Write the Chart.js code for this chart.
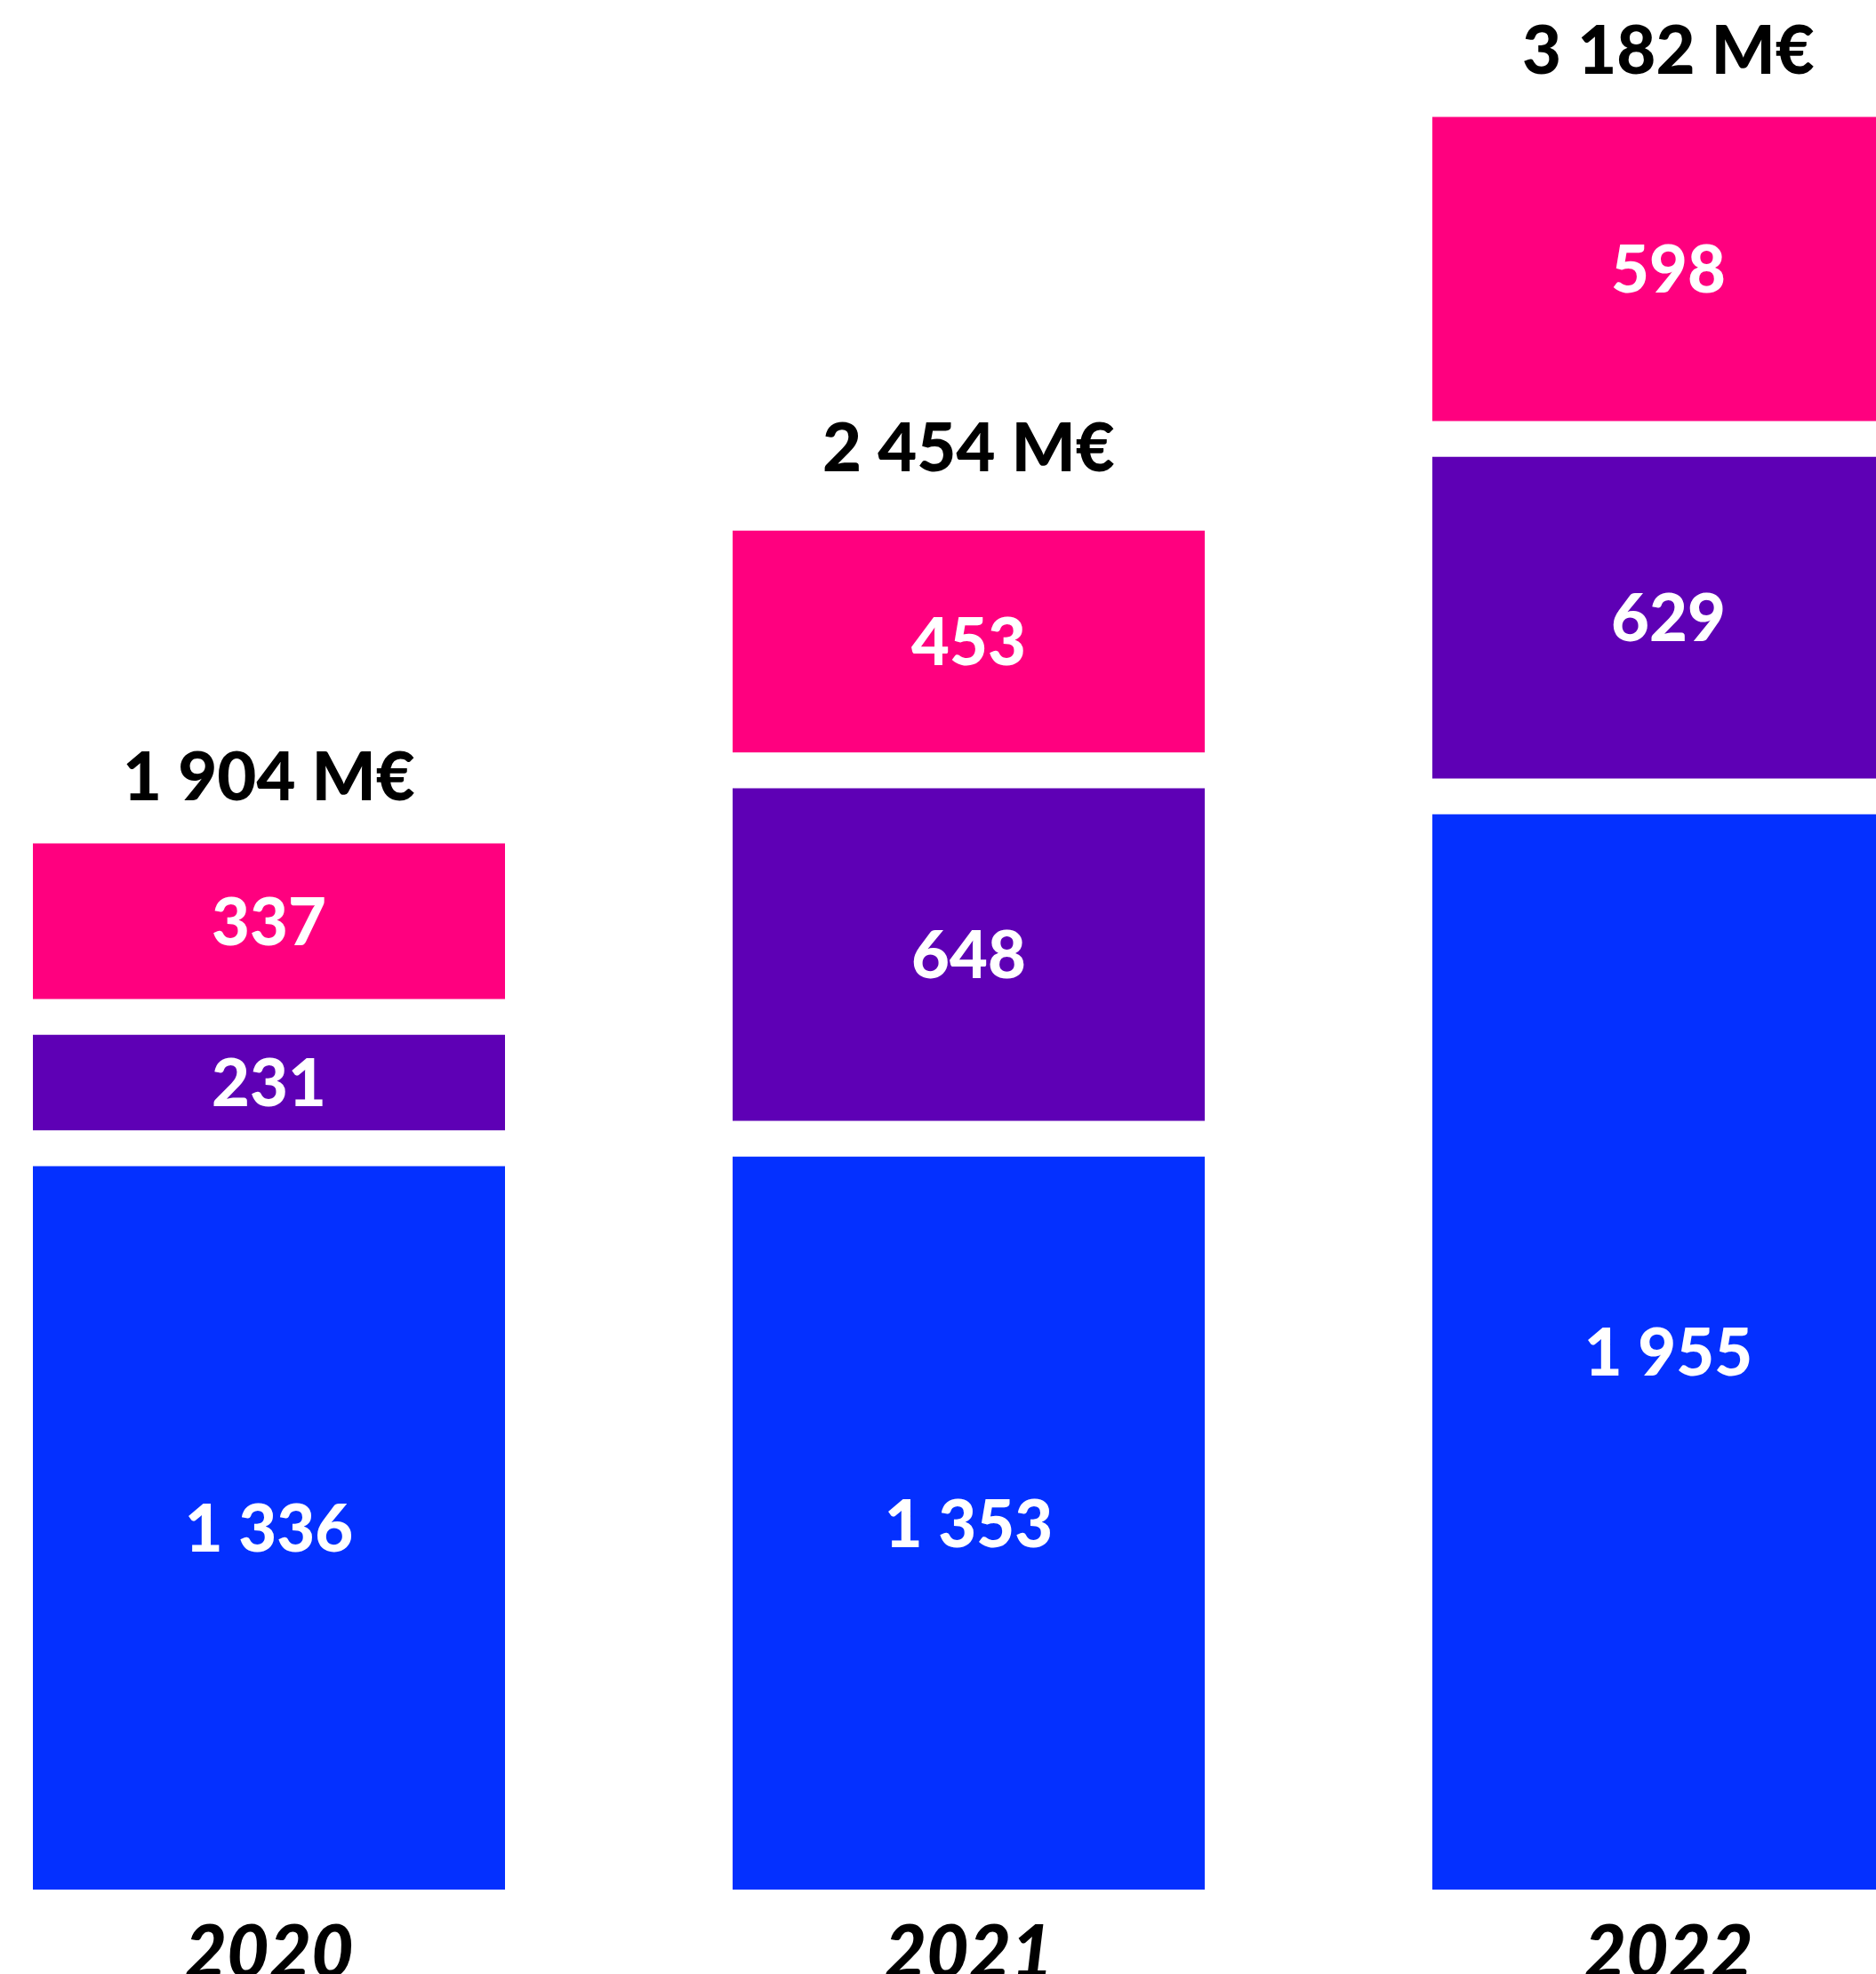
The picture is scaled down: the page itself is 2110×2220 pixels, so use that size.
<!DOCTYPE html>
<html>
<head>
<meta charset="utf-8">
<script src="https://cdn.jsdelivr.net/npm/chart.js@4.4.1/dist/chart.umd.min.js"></script>
<style>
 html, body { margin: 0; padding: 0; width: 2110px; height: 2220px; overflow: hidden; background: #fff; }
 #chart { position: absolute; left: -91px; top: 0; }
</style>
</head>
<body>
<canvas id="chart" width="2361" height="2270"></canvas>
<script>
const years = ["2020", "2021", "2022"];
const serieBleue = [1336, 1353, 1955];
const serieViolette = [231, 648, 629];
const serieRose = [337, 453, 598];
const totals = [1904, 2454, 3182];

const GAP = 40;
const FONT = "Lato";
// how far each total label sits above its bar (px)
const totalLift = [36, 54, 36];

function fmt(n) {
 return String(n).replace(/\B(?=(\d{3})+(?!\d))/g, " ");
}

const valueLabels = {
 id: "valueLabels",
 afterDatasetsDraw(chart) {
 const ctx = chart.ctx;
 ctx.save();
 ctx.textAlign = "center";
 ctx.textBaseline = "alphabetic";
 ctx.font = "900 74px " + FONT;
 ctx.fillStyle = "#fff";
 chart.data.datasets.forEach((ds, i) => {
 chart.getDatasetMeta(i).data.forEach((bar, j) => {
 const mid = (bar.y + GAP + bar.base) / 2;
 ctx.fillText(fmt(ds.data[j]), bar.x, mid + 74 * 0.358);
 });
 });
 ctx.fillStyle = "#000";
 ctx.font = "900 76px " + FONT;
 const top = chart.getDatasetMeta(chart.data.datasets.length - 1).data;
 totals.forEach((t, j) => {
 ctx.fillText(fmt(t) + " M€", top[j].x, top[j].y - totalLift[j] + 76 * 0.358);
 });
 ctx.restore();
 }
};

function draw() {
 const ctx = document.getElementById("chart").getContext("2d");
 const common = {
 borderColor: "#fff",
 borderWidth: { top: GAP, right: 0, bottom: 0, left: 0 },
 borderSkipped: "start",
 inflateAmount: 0,
 barThickness: 531
 };
 new Chart(ctx, {
 type: "bar",
 data: {
 labels: years,
 datasets: [
 { label: "Bleu", data: serieBleue, backgroundColor: "#0430ff", ...common },
 { label: "Violet", data: serieViolette, backgroundColor: "#5e00b5", ...common },
 { label: "Rose", data: serieRose, backgroundColor: "#ff007f", ...common }
 ]
 },
 options: {
 responsive: false,
 animation: false,
 devicePixelRatio: 1,
 layout: { padding: 0 },
 plugins: { legend: { display: false }, tooltip: { enabled: false } },
 scales: {
 x: {
 stacked: true,
 grid: { display: false, drawTicks: false },
 border: { display: false },
 ticks: {
 color: "#000",
 padding: 23,
 font: { family: FONT, size: 82, weight: "900", style: "italic" }
 }
 },
 y: {
 stacked: true,
 display: false,
 min: 0,
 max: 3325
 }
 }
 },
 plugins: [valueLabels]
 });
}

Promise.all([
 document.fonts.load("900 74px Lato"),
 document.fonts.load("italic 900 82px Lato")
]).then(draw, draw);
</script>
</body>
</html>
